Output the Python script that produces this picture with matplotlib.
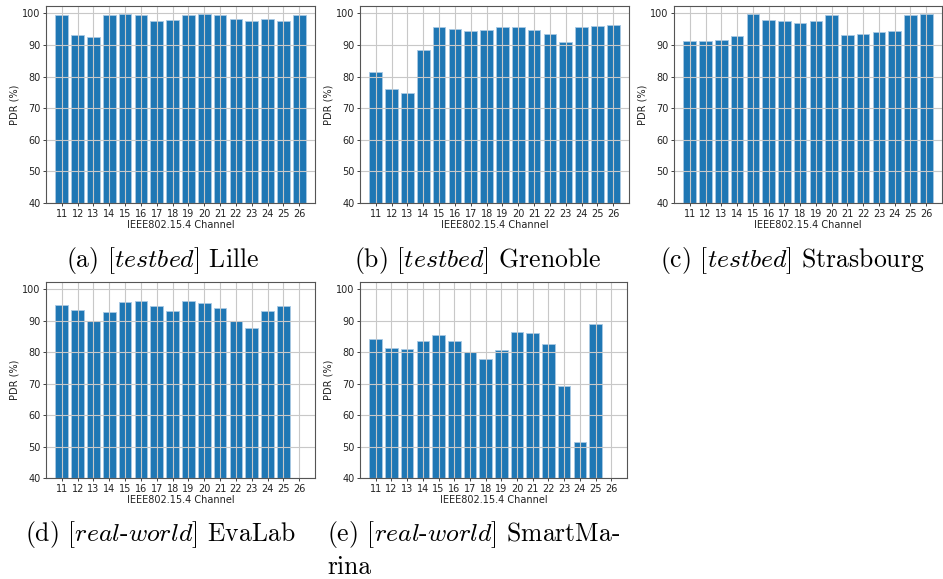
import matplotlib
matplotlib.use("Agg")
import matplotlib.pyplot as plt
import numpy as np

channels = list(range(11, 27))
pdr_lille = [99.5, 93.1, 92.6, 99.3, 99.9, 99.3, 97.4, 97.9, 99.6, 99.7, 99.6, 98.2, 97.4, 98.2, 97.5, 99.6]
pdr_grenoble = [81.3, 75.9, 74.9, 88.5, 95.7, 95.1, 94.3, 94.8, 95.8, 95.7, 94.6, 93.3, 90.8, 95.7, 96.0, 96.2]
pdr_strasbourg = [91.2, 91.2, 91.7, 92.7, 99.9, 97.8, 97.6, 96.9, 97.6, 99.5, 93.2, 93.4, 94.0, 94.4, 99.6, 99.9]
pdr_evalab = [94.9, 93.3, 89.8, 92.8, 96.1, 96.2, 94.8, 93.2, 96.2, 95.6, 94.1, 90.0, 87.8, 93.2, 94.8, np.nan]
pdr_smartmarina = [84.2, 81.3, 81.1, 83.4, 85.4, 83.5, 80.1, 77.8, 80.6, 86.4, 86.0, 82.6, 69.3, 51.4, 88.9, np.nan]

y_ticks = [40, 50, 60, 70, 80, 90, 100]

W, H = 943, 579
fig = plt.figure(figsize=(W / 100, H / 100), dpi=100)

def px_axes(left, right, top, bottom):
    return fig.add_axes([left / W, 1 - bottom / H, (right - left) / W, (bottom - top) / H])

panels = [
    (pdr_lille, (46, 315, 6, 203)),
    (pdr_grenoble, (360, 629, 6, 203)),
    (pdr_strasbourg, (674, 942, 6, 203)),
    (pdr_evalab, (46, 315, 282, 478)),
    (pdr_smartmarina, (360, 627, 282, 478)),
]

for vals, box in panels:
    ax = px_axes(*box)
    v = np.array(vals, dtype=float)
    mask = ~np.isnan(v)
    ax.bar(np.array(channels)[mask], v[mask], width=0.8, color="#1f77b4",
           edgecolor="#a9c9e3", linewidth=0.6)
    ax.set_xlim(10, 27)
    ax.set_ylim(40, 102.3)
    ax.set_xticks(channels)
    ax.set_yticks(y_ticks)
    ax.grid(True, color="#c8c8c8", linewidth=0.8)
    ax.tick_params(labelsize=7, length=2.5, width=0.6, pad=1.5, colors="#222222")
    for s in ax.spines.values():
        s.set_color("#555555")
        s.set_linewidth(0.8)
    ax.set_ylabel("PDR (%)", fontsize=7, labelpad=1.5, color="#222222")
    ax.set_xlabel("IEEE802.15.4 Channel", fontsize=7, labelpad=1.2, color="#222222")

plt.rcParams["mathtext.fontset"] = "cm"
cap = dict(fontsize=18.5, family="cmr10", va="center")
fig.text(163 / W, 1 - 260 / H, r"(a) $\mathit{[testbed]}$ Lille", ha="center", **cap)
fig.text(478 / W, 1 - 260 / H, r"(b) $\mathit{[testbed]}$ Grenoble", ha="center", **cap)
fig.text(792 / W, 1 - 260 / H, r"(c) $\mathit{[testbed]}$ Strasbourg", ha="center", **cap)
fig.text(25 / W, 1 - 535 / H, r"(d) $\mathit{[real}$-$\mathit{world]}$ EvaLab", ha="left", **cap)
fig.text(327 / W, 1 - 535 / H, r"(e) $\mathit{[real}$-$\mathit{world]}$ SmartMa-", ha="left", **cap)
fig.text(327 / W, 1 - 567 / H, "rina", ha="left", **cap)

fig.savefig("out.png", dpi=100)
